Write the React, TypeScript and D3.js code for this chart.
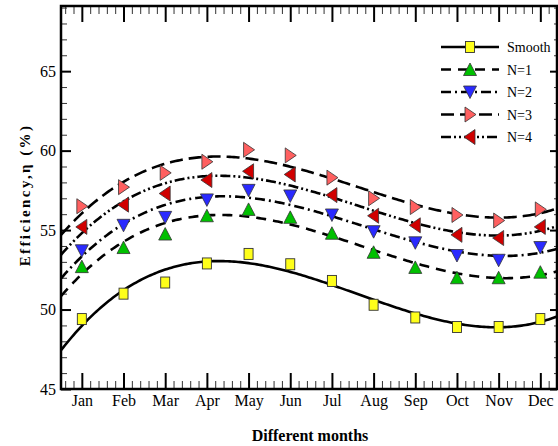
import React, { useEffect, useRef } from 'react';
import * as d3 from 'd3';

// month labels and measured efficiency values (%)
const months = ['Jan', 'Feb', 'Mar', 'Apr', 'May', 'Jun', 'Jul', 'Aug', 'Sep', 'Oct', 'Nov', 'Dec'];
const smooth = [49.4, 51.0, 51.7, 52.9, 53.5, 52.85, 51.8, 50.3, 49.5, 48.9, 48.9, 49.4];
const n1 = [52.7, 53.9, 54.75, 55.9, 56.3, 55.8, 54.8, 53.6, 52.65, 52.0, 52.0, 52.35];
const n2 = [53.7, 55.3, 55.8, 56.9, 57.5, 57.15, 55.95, 54.9, 54.2, 53.4, 53.1, 53.9];
const n3 = [56.5, 57.7, 58.6, 59.3, 60.05, 59.7, 58.3, 57.0, 56.45, 55.95, 55.6, 56.3];
const n4 = [55.2, 56.6, 57.3, 58.15, 58.7, 58.5, 57.2, 55.9, 55.3, 54.7, 54.5, 55.2];
const yTicks = [45, 50, 55, 60, 65];

const FONT = '"Liberation Serif", "Times New Roman", serif';

const series = [
  { name: 'Smooth', values: smooth, dash: null, marker: 'square', fill: '#ffff1a' },
  { name: 'N=1', values: n1, dash: '10,7', marker: 'up', fill: '#00c000' },
  { name: 'N=2', values: n2, dash: '10,4,2,4', marker: 'down', fill: '#2a2aff' },
  { name: 'N=3', values: n3, dash: '13,6', marker: 'right', fill: '#ff6060' },
  { name: 'N=4', values: n4, dash: '10,3,2,3,2,3', marker: 'left', fill: '#d00000' },
];

const markerPath = {
  up: 'M0,-6.5L6.5,6L-6.5,6Z',
  down: 'M0,6.5L6.5,-6L-6.5,-6Z',
  right: 'M-5,-7.5L6,0L-5,7.5Z',
  left: 'M5,-7.5L-6,0L5,7.5Z',
};

// least-squares cubic through the monthly points
const cubicFit = (xs, ys) => {
  const n = 4;
  const A = Array.from({ length: n }, () => Array(n + 1).fill(0));
  xs.forEach((x, k) => {
    for (let i = 0; i < n; i++) {
      for (let j = 0; j < n; j++) A[i][j] += Math.pow(x, i + j);
      A[i][n] += ys[k] * Math.pow(x, i);
    }
  });
  for (let c = 0; c < n; c++) {
    let p = c;
    for (let r = c + 1; r < n; r++) if (Math.abs(A[r][c]) > Math.abs(A[p][c])) p = r;
    [A[c], A[p]] = [A[p], A[c]];
    for (let r = 0; r < n; r++) {
      if (r === c) continue;
      const f = A[r][c] / A[c][c];
      for (let k = c; k <= n; k++) A[r][k] -= f * A[c][k];
    }
  }
  const coef = A.map((row, i) => row[n] / row[i]);
  return (x) => coef.reduce((s, a, i) => s + a * Math.pow(x, i), 0);
};

const App = () => {
  const svgRef = useRef(null);

  useEffect(() => {
    const svg = d3.select(svgRef.current);
    svg.selectAll('*').remove();

    const left = 61, right = 557, top = 6, bottom = 389;
    const x = d3.scaleLinear().domain([0.5, 12.4]).range([left, right]);
    const y = d3.scaleLinear().domain([45, 69.1]).range([bottom, top]);

    svg.append('rect').attr('width', 558).attr('height', 446).attr('fill', 'white');

    svg.append('clipPath').attr('id', 'plotclip')
      .append('rect').attr('x', left).attr('y', top).attr('width', right - left).attr('height', bottom - top);

    const monthIdx = months.map((_, i) => i + 1);
    const minorX = d3.range(0.6, 12.4, 0.2).filter(v => Math.abs(v - Math.round(v)) > 0.05);
    const minorY = d3.range(46, 69.1, 1).filter(v => v % 5 !== 0);

    // x axes (bottom + top), ticks pointing inward
    const xb = svg.append('g').attr('transform', `translate(0,${bottom})`)
      .call(d3.axisBottom(x).tickValues(monthIdx).tickFormat((d) => months[d - 1]).tickSize(-16).tickPadding(6));
    const xbm = svg.append('g').attr('transform', `translate(0,${bottom})`)
      .call(d3.axisBottom(x).tickValues(minorX).tickFormat(() => '').tickSize(-8));
    const xt = svg.append('g').attr('transform', `translate(0,${top})`)
      .call(d3.axisTop(x).tickValues(monthIdx).tickFormat(() => '').tickSize(-16));
    const xtm = svg.append('g').attr('transform', `translate(0,${top})`)
      .call(d3.axisTop(x).tickValues(minorX).tickFormat(() => '').tickSize(-8));

    // y axes (left + right)
    const yl = svg.append('g').attr('transform', `translate(${left},0)`)
      .call(d3.axisLeft(y).tickValues(yTicks).tickSize(-10).tickPadding(5));
    const ylm = svg.append('g').attr('transform', `translate(${left},0)`)
      .call(d3.axisLeft(y).tickValues(minorY).tickFormat(() => '').tickSize(-6));
    const yr = svg.append('g').attr('transform', `translate(${right},0)`)
      .call(d3.axisRight(y).tickValues(yTicks).tickFormat(() => '').tickSize(-7));
    const yrm = svg.append('g').attr('transform', `translate(${right},0)`)
      .call(d3.axisRight(y).tickValues(minorY).tickFormat(() => '').tickSize(-3));

    [xb, xt, yl, yr].forEach(g => {
      g.select('.domain').remove();
      g.selectAll('line').attr('stroke', '#000').attr('stroke-width', 2);
    });
    [xbm, xtm, ylm, yrm].forEach(g => {
      g.select('.domain').remove();
      g.selectAll('line').attr('stroke', '#333').attr('stroke-width', 1);
    });
    xb.selectAll('text').attr('font-family', FONT).attr('font-size', 16).attr('fill', '#000');
    yl.selectAll('text').attr('font-family', FONT).attr('font-size', 16).attr('fill', '#000');

    // fitted curves
    const plot = svg.append('g').attr('clip-path', 'url(#plotclip)');
    const xs = d3.range(0.5, 12.41, 0.05);
    series.forEach(s => {
      const f = cubicFit(monthIdx, s.values);
      plot.append('path')
        .attr('d', d3.line().x(d => x(d)).y(d => y(f(d)))(xs))
        .attr('fill', 'none')
        .attr('stroke', '#000')
        .attr('stroke-width', 2.6)
        .attr('stroke-dasharray', s.dash);
    });

    const drawMarker = (g, s, cx, cy) => {
      if (s.marker === 'square') {
        g.append('rect').attr('x', cx - 4.5).attr('y', cy - 5.5).attr('width', 9).attr('height', 11)
          .attr('fill', s.fill).attr('stroke', '#333').attr('stroke-width', 0.9);
      } else {
        g.append('path').attr('d', markerPath[s.marker]).attr('transform', `translate(${cx},${cy})`)
          .attr('fill', s.fill).attr('stroke', '#333').attr('stroke-width', 0.8);
      }
    };

    series.forEach(s => {
      s.values.forEach((v, i) => drawMarker(plot, s, x(i + 1), y(v)));
    });

    // frame
    svg.append('rect').attr('x', left).attr('y', top).attr('width', right - left).attr('height', bottom - top)
      .attr('fill', 'none').attr('stroke', '#000').attr('stroke-width', 2.5);

    // legend
    const lg = svg.append('g');
    series.forEach((s, i) => {
      const ly = 47 + i * 22.5;
      lg.append('line').attr('x1', 441).attr('x2', 499).attr('y1', ly).attr('y2', ly)
        .attr('stroke', '#000').attr('stroke-width', 2.6).attr('stroke-dasharray', s.dash);
      drawMarker(lg, s, 470, ly);
      lg.append('text').attr('x', 507).attr('y', ly + 5)
        .attr('font-family', FONT).attr('font-size', 14).attr('fill', '#000').text(s.name);
    });

    // axis titles
    svg.append('text').attr('x', 310).attr('y', 441).attr('text-anchor', 'middle')
      .attr('font-family', FONT).attr('font-size', 16).attr('font-weight', 'bold')
      .text('Different months');
    svg.append('text').attr('transform', 'translate(30,195) rotate(-90)').attr('text-anchor', 'middle')
      .attr('font-family', FONT).attr('font-size', 15).attr('font-weight', 'bold')
      .attr('letter-spacing', 2.4)
      .text('Efficiency,η (%)');
  }, []);

  return (
    <svg ref={svgRef} width={558} height={446}
      style={{ position: 'absolute', left: 0, top: 0, display: 'block' }} />
  );
};

export default App;
